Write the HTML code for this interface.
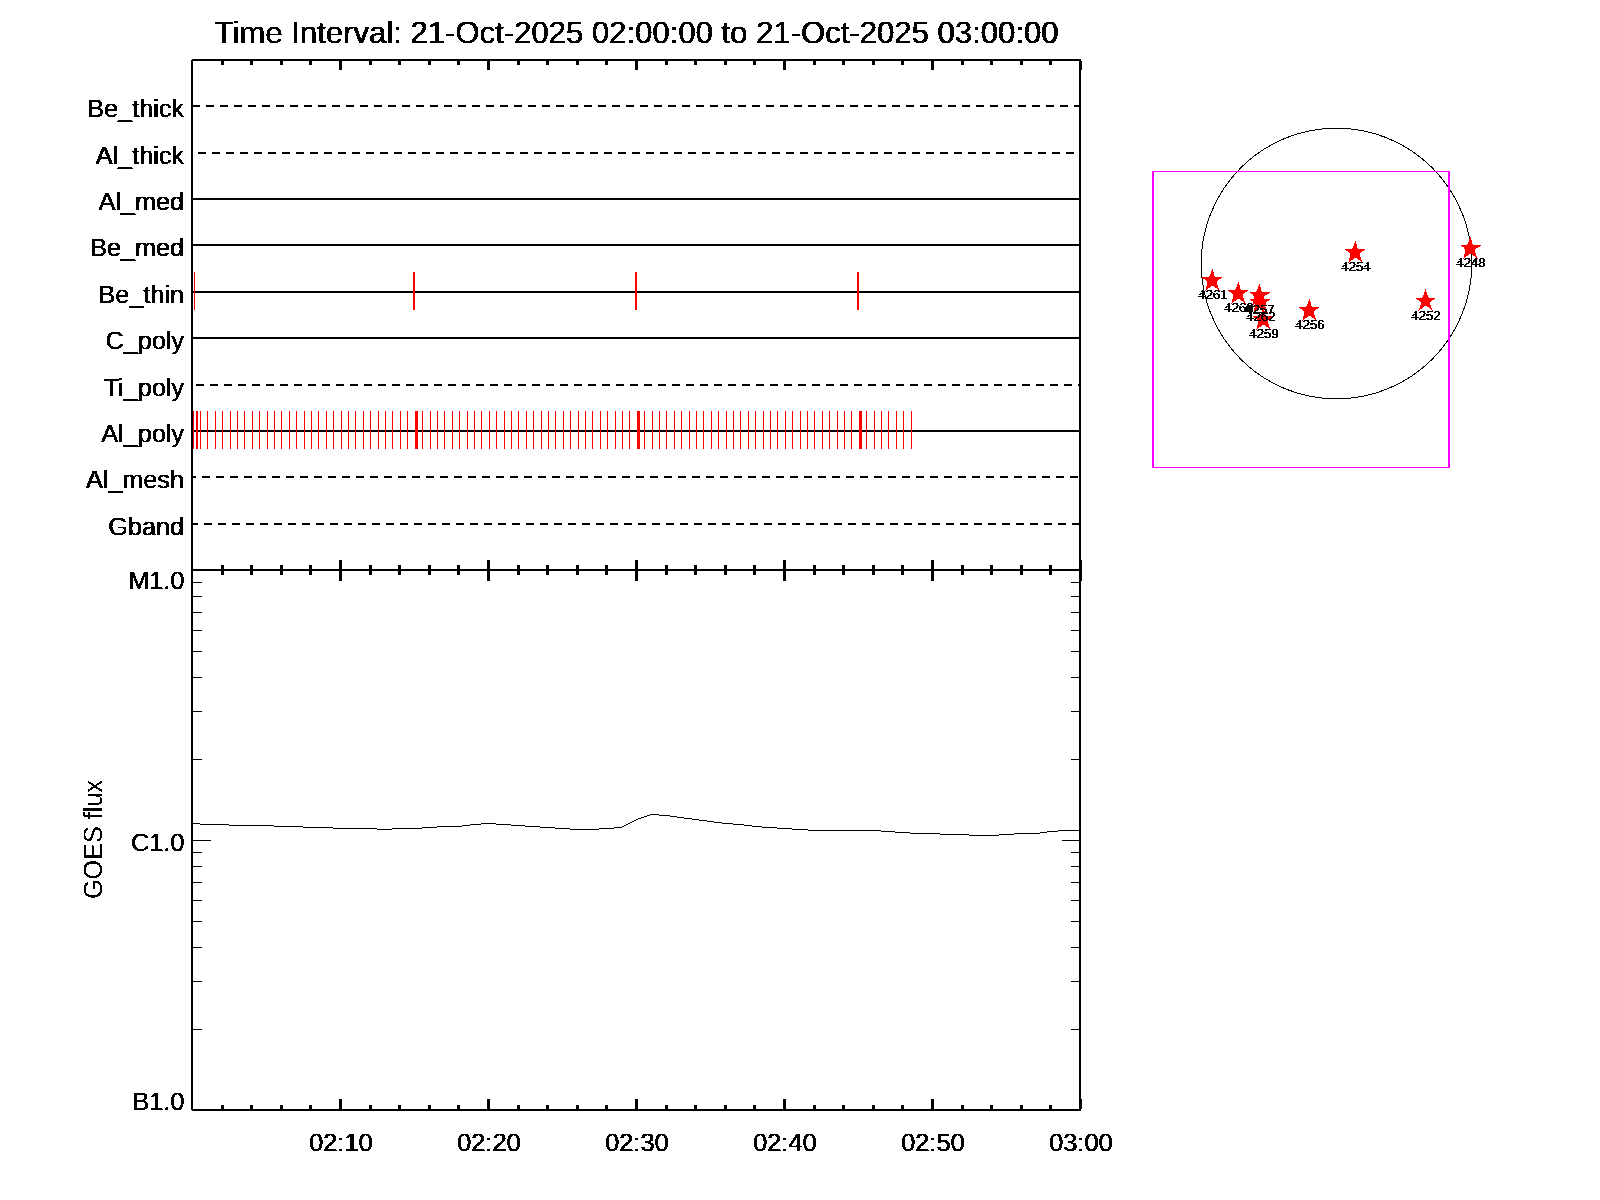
<!DOCTYPE html>
<html lang="en"><head><meta charset="utf-8"><title>Time Interval plot</title>
<style>html,body{margin:0;padding:0;background:#fff;overflow:hidden}svg{display:block}text{font-family:"Liberation Sans",sans-serif;fill:#000;text-rendering:geometricPrecision}.k{fill:#000}.r{fill:#f00}.m{fill:#f0f}</style></head><body>
<svg width="1600" height="1200" viewBox="0 0 1600 1200" shape-rendering="crispEdges">
<defs><filter id="th" filterUnits="userSpaceOnUse" x="0" y="0" width="1600" height="1200" color-interpolation-filters="sRGB"><feComponentTransfer result="t"><feFuncA type="discrete" tableValues="0 0 0 1 1"/></feComponentTransfer><feOffset in="t" dx="1" dy="0" result="o"/><feMerge><feMergeNode in="t"/><feMergeNode in="o"/></feMerge></filter><filter id="th1" filterUnits="userSpaceOnUse" x="0" y="0" width="1600" height="1200" color-interpolation-filters="sRGB"><feComponentTransfer><feFuncA type="discrete" tableValues="0 1"/></feComponentTransfer></filter></defs>
<rect x="0" y="0" width="1600" height="1200" fill="#fff"/>
<g id="rows">
<rect class="k" x="193" y="105" width="7" height="2"/>
<rect class="k" x="206" y="105" width="8" height="2"/>
<rect class="k" x="220" y="105" width="8" height="2"/>
<rect class="k" x="234" y="105" width="8" height="2"/>
<rect class="k" x="248" y="105" width="8" height="2"/>
<rect class="k" x="262" y="105" width="8" height="2"/>
<rect class="k" x="276" y="105" width="8" height="2"/>
<rect class="k" x="290" y="105" width="8" height="2"/>
<rect class="k" x="304" y="105" width="8" height="2"/>
<rect class="k" x="318" y="105" width="8" height="2"/>
<rect class="k" x="332" y="105" width="8" height="2"/>
<rect class="k" x="346" y="105" width="8" height="2"/>
<rect class="k" x="360" y="105" width="8" height="2"/>
<rect class="k" x="374" y="105" width="8" height="2"/>
<rect class="k" x="388" y="105" width="8" height="2"/>
<rect class="k" x="402" y="105" width="8" height="2"/>
<rect class="k" x="416" y="105" width="8" height="2"/>
<rect class="k" x="430" y="105" width="8" height="2"/>
<rect class="k" x="444" y="105" width="8" height="2"/>
<rect class="k" x="458" y="105" width="8" height="2"/>
<rect class="k" x="472" y="105" width="8" height="2"/>
<rect class="k" x="486" y="105" width="8" height="2"/>
<rect class="k" x="500" y="105" width="8" height="2"/>
<rect class="k" x="514" y="105" width="8" height="2"/>
<rect class="k" x="528" y="105" width="8" height="2"/>
<rect class="k" x="542" y="105" width="8" height="2"/>
<rect class="k" x="556" y="105" width="8" height="2"/>
<rect class="k" x="570" y="105" width="8" height="2"/>
<rect class="k" x="584" y="105" width="8" height="2"/>
<rect class="k" x="598" y="105" width="8" height="2"/>
<rect class="k" x="612" y="105" width="8" height="2"/>
<rect class="k" x="626" y="105" width="8" height="2"/>
<rect class="k" x="640" y="105" width="8" height="2"/>
<rect class="k" x="654" y="105" width="8" height="2"/>
<rect class="k" x="668" y="105" width="8" height="2"/>
<rect class="k" x="682" y="105" width="8" height="2"/>
<rect class="k" x="696" y="105" width="8" height="2"/>
<rect class="k" x="710" y="105" width="8" height="2"/>
<rect class="k" x="724" y="105" width="8" height="2"/>
<rect class="k" x="738" y="105" width="8" height="2"/>
<rect class="k" x="752" y="105" width="8" height="2"/>
<rect class="k" x="766" y="105" width="8" height="2"/>
<rect class="k" x="780" y="105" width="8" height="2"/>
<rect class="k" x="794" y="105" width="8" height="2"/>
<rect class="k" x="808" y="105" width="8" height="2"/>
<rect class="k" x="822" y="105" width="8" height="2"/>
<rect class="k" x="836" y="105" width="8" height="2"/>
<rect class="k" x="850" y="105" width="8" height="2"/>
<rect class="k" x="864" y="105" width="8" height="2"/>
<rect class="k" x="878" y="105" width="8" height="2"/>
<rect class="k" x="892" y="105" width="8" height="2"/>
<rect class="k" x="906" y="105" width="8" height="2"/>
<rect class="k" x="920" y="105" width="8" height="2"/>
<rect class="k" x="934" y="105" width="8" height="2"/>
<rect class="k" x="948" y="105" width="8" height="2"/>
<rect class="k" x="962" y="105" width="8" height="2"/>
<rect class="k" x="976" y="105" width="8" height="2"/>
<rect class="k" x="990" y="105" width="8" height="2"/>
<rect class="k" x="1004" y="105" width="8" height="2"/>
<rect class="k" x="1018" y="105" width="8" height="2"/>
<rect class="k" x="1032" y="105" width="8" height="2"/>
<rect class="k" x="1046" y="105" width="8" height="2"/>
<rect class="k" x="1060" y="105" width="8" height="2"/>
<rect class="k" x="1074" y="105" width="5" height="2"/>
<rect class="k" x="198" y="152" width="8" height="2"/>
<rect class="k" x="212" y="152" width="8" height="2"/>
<rect class="k" x="226" y="152" width="8" height="2"/>
<rect class="k" x="240" y="152" width="8" height="2"/>
<rect class="k" x="254" y="152" width="8" height="2"/>
<rect class="k" x="268" y="152" width="8" height="2"/>
<rect class="k" x="282" y="152" width="8" height="2"/>
<rect class="k" x="296" y="152" width="8" height="2"/>
<rect class="k" x="310" y="152" width="8" height="2"/>
<rect class="k" x="324" y="152" width="8" height="2"/>
<rect class="k" x="338" y="152" width="8" height="2"/>
<rect class="k" x="352" y="152" width="8" height="2"/>
<rect class="k" x="366" y="152" width="8" height="2"/>
<rect class="k" x="380" y="152" width="8" height="2"/>
<rect class="k" x="394" y="152" width="8" height="2"/>
<rect class="k" x="408" y="152" width="8" height="2"/>
<rect class="k" x="422" y="152" width="8" height="2"/>
<rect class="k" x="436" y="152" width="8" height="2"/>
<rect class="k" x="450" y="152" width="8" height="2"/>
<rect class="k" x="464" y="152" width="8" height="2"/>
<rect class="k" x="478" y="152" width="8" height="2"/>
<rect class="k" x="492" y="152" width="8" height="2"/>
<rect class="k" x="506" y="152" width="8" height="2"/>
<rect class="k" x="520" y="152" width="8" height="2"/>
<rect class="k" x="534" y="152" width="8" height="2"/>
<rect class="k" x="548" y="152" width="8" height="2"/>
<rect class="k" x="562" y="152" width="8" height="2"/>
<rect class="k" x="576" y="152" width="8" height="2"/>
<rect class="k" x="590" y="152" width="8" height="2"/>
<rect class="k" x="604" y="152" width="8" height="2"/>
<rect class="k" x="618" y="152" width="8" height="2"/>
<rect class="k" x="632" y="152" width="8" height="2"/>
<rect class="k" x="646" y="152" width="8" height="2"/>
<rect class="k" x="660" y="152" width="8" height="2"/>
<rect class="k" x="674" y="152" width="8" height="2"/>
<rect class="k" x="688" y="152" width="8" height="2"/>
<rect class="k" x="702" y="152" width="8" height="2"/>
<rect class="k" x="716" y="152" width="8" height="2"/>
<rect class="k" x="730" y="152" width="8" height="2"/>
<rect class="k" x="744" y="152" width="8" height="2"/>
<rect class="k" x="758" y="152" width="8" height="2"/>
<rect class="k" x="772" y="152" width="8" height="2"/>
<rect class="k" x="786" y="152" width="8" height="2"/>
<rect class="k" x="800" y="152" width="8" height="2"/>
<rect class="k" x="814" y="152" width="8" height="2"/>
<rect class="k" x="828" y="152" width="8" height="2"/>
<rect class="k" x="842" y="152" width="8" height="2"/>
<rect class="k" x="856" y="152" width="8" height="2"/>
<rect class="k" x="870" y="152" width="8" height="2"/>
<rect class="k" x="884" y="152" width="8" height="2"/>
<rect class="k" x="898" y="152" width="8" height="2"/>
<rect class="k" x="912" y="152" width="8" height="2"/>
<rect class="k" x="926" y="152" width="8" height="2"/>
<rect class="k" x="940" y="152" width="8" height="2"/>
<rect class="k" x="954" y="152" width="8" height="2"/>
<rect class="k" x="968" y="152" width="8" height="2"/>
<rect class="k" x="982" y="152" width="8" height="2"/>
<rect class="k" x="996" y="152" width="8" height="2"/>
<rect class="k" x="1010" y="152" width="8" height="2"/>
<rect class="k" x="1024" y="152" width="8" height="2"/>
<rect class="k" x="1038" y="152" width="8" height="2"/>
<rect class="k" x="1052" y="152" width="8" height="2"/>
<rect class="k" x="1066" y="152" width="8" height="2"/>
<rect class="k" x="193" y="198" width="886" height="2"/>
<rect class="k" x="193" y="244" width="886" height="2"/>
<rect class="k" x="193" y="291" width="886" height="2"/>
<rect class="k" x="193" y="337" width="886" height="2"/>
<rect class="k" x="196" y="384" width="8" height="2"/>
<rect class="k" x="210" y="384" width="8" height="2"/>
<rect class="k" x="224" y="384" width="8" height="2"/>
<rect class="k" x="238" y="384" width="8" height="2"/>
<rect class="k" x="252" y="384" width="8" height="2"/>
<rect class="k" x="266" y="384" width="8" height="2"/>
<rect class="k" x="280" y="384" width="8" height="2"/>
<rect class="k" x="294" y="384" width="8" height="2"/>
<rect class="k" x="308" y="384" width="8" height="2"/>
<rect class="k" x="322" y="384" width="8" height="2"/>
<rect class="k" x="336" y="384" width="8" height="2"/>
<rect class="k" x="350" y="384" width="8" height="2"/>
<rect class="k" x="364" y="384" width="8" height="2"/>
<rect class="k" x="378" y="384" width="8" height="2"/>
<rect class="k" x="392" y="384" width="8" height="2"/>
<rect class="k" x="406" y="384" width="8" height="2"/>
<rect class="k" x="420" y="384" width="8" height="2"/>
<rect class="k" x="434" y="384" width="8" height="2"/>
<rect class="k" x="448" y="384" width="8" height="2"/>
<rect class="k" x="462" y="384" width="8" height="2"/>
<rect class="k" x="476" y="384" width="8" height="2"/>
<rect class="k" x="490" y="384" width="8" height="2"/>
<rect class="k" x="504" y="384" width="8" height="2"/>
<rect class="k" x="518" y="384" width="8" height="2"/>
<rect class="k" x="532" y="384" width="8" height="2"/>
<rect class="k" x="546" y="384" width="8" height="2"/>
<rect class="k" x="560" y="384" width="8" height="2"/>
<rect class="k" x="574" y="384" width="8" height="2"/>
<rect class="k" x="588" y="384" width="8" height="2"/>
<rect class="k" x="602" y="384" width="8" height="2"/>
<rect class="k" x="616" y="384" width="8" height="2"/>
<rect class="k" x="630" y="384" width="8" height="2"/>
<rect class="k" x="644" y="384" width="8" height="2"/>
<rect class="k" x="658" y="384" width="8" height="2"/>
<rect class="k" x="672" y="384" width="8" height="2"/>
<rect class="k" x="686" y="384" width="8" height="2"/>
<rect class="k" x="700" y="384" width="8" height="2"/>
<rect class="k" x="714" y="384" width="8" height="2"/>
<rect class="k" x="728" y="384" width="8" height="2"/>
<rect class="k" x="742" y="384" width="8" height="2"/>
<rect class="k" x="756" y="384" width="8" height="2"/>
<rect class="k" x="770" y="384" width="8" height="2"/>
<rect class="k" x="784" y="384" width="8" height="2"/>
<rect class="k" x="798" y="384" width="8" height="2"/>
<rect class="k" x="812" y="384" width="8" height="2"/>
<rect class="k" x="826" y="384" width="8" height="2"/>
<rect class="k" x="840" y="384" width="8" height="2"/>
<rect class="k" x="854" y="384" width="8" height="2"/>
<rect class="k" x="868" y="384" width="8" height="2"/>
<rect class="k" x="882" y="384" width="8" height="2"/>
<rect class="k" x="896" y="384" width="8" height="2"/>
<rect class="k" x="910" y="384" width="8" height="2"/>
<rect class="k" x="924" y="384" width="8" height="2"/>
<rect class="k" x="938" y="384" width="8" height="2"/>
<rect class="k" x="952" y="384" width="8" height="2"/>
<rect class="k" x="966" y="384" width="8" height="2"/>
<rect class="k" x="980" y="384" width="8" height="2"/>
<rect class="k" x="994" y="384" width="8" height="2"/>
<rect class="k" x="1008" y="384" width="8" height="2"/>
<rect class="k" x="1022" y="384" width="8" height="2"/>
<rect class="k" x="1036" y="384" width="8" height="2"/>
<rect class="k" x="1050" y="384" width="8" height="2"/>
<rect class="k" x="1064" y="384" width="8" height="2"/>
<rect class="k" x="1078" y="384" width="1" height="2"/>
<rect class="k" x="193" y="430" width="886" height="2"/>
<rect class="k" x="193" y="476" width="3" height="2"/>
<rect class="k" x="202" y="476" width="8" height="2"/>
<rect class="k" x="216" y="476" width="8" height="2"/>
<rect class="k" x="230" y="476" width="8" height="2"/>
<rect class="k" x="244" y="476" width="8" height="2"/>
<rect class="k" x="258" y="476" width="8" height="2"/>
<rect class="k" x="272" y="476" width="8" height="2"/>
<rect class="k" x="286" y="476" width="8" height="2"/>
<rect class="k" x="300" y="476" width="8" height="2"/>
<rect class="k" x="314" y="476" width="8" height="2"/>
<rect class="k" x="328" y="476" width="8" height="2"/>
<rect class="k" x="342" y="476" width="8" height="2"/>
<rect class="k" x="356" y="476" width="8" height="2"/>
<rect class="k" x="370" y="476" width="8" height="2"/>
<rect class="k" x="384" y="476" width="8" height="2"/>
<rect class="k" x="398" y="476" width="8" height="2"/>
<rect class="k" x="412" y="476" width="8" height="2"/>
<rect class="k" x="426" y="476" width="8" height="2"/>
<rect class="k" x="440" y="476" width="8" height="2"/>
<rect class="k" x="454" y="476" width="8" height="2"/>
<rect class="k" x="468" y="476" width="8" height="2"/>
<rect class="k" x="482" y="476" width="8" height="2"/>
<rect class="k" x="496" y="476" width="8" height="2"/>
<rect class="k" x="510" y="476" width="8" height="2"/>
<rect class="k" x="524" y="476" width="8" height="2"/>
<rect class="k" x="538" y="476" width="8" height="2"/>
<rect class="k" x="552" y="476" width="8" height="2"/>
<rect class="k" x="566" y="476" width="8" height="2"/>
<rect class="k" x="580" y="476" width="8" height="2"/>
<rect class="k" x="594" y="476" width="8" height="2"/>
<rect class="k" x="608" y="476" width="8" height="2"/>
<rect class="k" x="622" y="476" width="8" height="2"/>
<rect class="k" x="636" y="476" width="8" height="2"/>
<rect class="k" x="650" y="476" width="8" height="2"/>
<rect class="k" x="664" y="476" width="8" height="2"/>
<rect class="k" x="678" y="476" width="8" height="2"/>
<rect class="k" x="692" y="476" width="8" height="2"/>
<rect class="k" x="706" y="476" width="8" height="2"/>
<rect class="k" x="720" y="476" width="8" height="2"/>
<rect class="k" x="734" y="476" width="8" height="2"/>
<rect class="k" x="748" y="476" width="8" height="2"/>
<rect class="k" x="762" y="476" width="8" height="2"/>
<rect class="k" x="776" y="476" width="8" height="2"/>
<rect class="k" x="790" y="476" width="8" height="2"/>
<rect class="k" x="804" y="476" width="8" height="2"/>
<rect class="k" x="818" y="476" width="8" height="2"/>
<rect class="k" x="832" y="476" width="8" height="2"/>
<rect class="k" x="846" y="476" width="8" height="2"/>
<rect class="k" x="860" y="476" width="8" height="2"/>
<rect class="k" x="874" y="476" width="8" height="2"/>
<rect class="k" x="888" y="476" width="8" height="2"/>
<rect class="k" x="902" y="476" width="8" height="2"/>
<rect class="k" x="916" y="476" width="8" height="2"/>
<rect class="k" x="930" y="476" width="8" height="2"/>
<rect class="k" x="944" y="476" width="8" height="2"/>
<rect class="k" x="958" y="476" width="8" height="2"/>
<rect class="k" x="972" y="476" width="8" height="2"/>
<rect class="k" x="986" y="476" width="8" height="2"/>
<rect class="k" x="1000" y="476" width="8" height="2"/>
<rect class="k" x="1014" y="476" width="8" height="2"/>
<rect class="k" x="1028" y="476" width="8" height="2"/>
<rect class="k" x="1042" y="476" width="8" height="2"/>
<rect class="k" x="1056" y="476" width="8" height="2"/>
<rect class="k" x="1070" y="476" width="8" height="2"/>
<rect class="k" x="193" y="523" width="5" height="2"/>
<rect class="k" x="204" y="523" width="8" height="2"/>
<rect class="k" x="218" y="523" width="8" height="2"/>
<rect class="k" x="232" y="523" width="8" height="2"/>
<rect class="k" x="246" y="523" width="8" height="2"/>
<rect class="k" x="260" y="523" width="8" height="2"/>
<rect class="k" x="274" y="523" width="8" height="2"/>
<rect class="k" x="288" y="523" width="8" height="2"/>
<rect class="k" x="302" y="523" width="8" height="2"/>
<rect class="k" x="316" y="523" width="8" height="2"/>
<rect class="k" x="330" y="523" width="8" height="2"/>
<rect class="k" x="344" y="523" width="8" height="2"/>
<rect class="k" x="358" y="523" width="8" height="2"/>
<rect class="k" x="372" y="523" width="8" height="2"/>
<rect class="k" x="386" y="523" width="8" height="2"/>
<rect class="k" x="400" y="523" width="8" height="2"/>
<rect class="k" x="414" y="523" width="8" height="2"/>
<rect class="k" x="428" y="523" width="8" height="2"/>
<rect class="k" x="442" y="523" width="8" height="2"/>
<rect class="k" x="456" y="523" width="8" height="2"/>
<rect class="k" x="470" y="523" width="8" height="2"/>
<rect class="k" x="484" y="523" width="8" height="2"/>
<rect class="k" x="498" y="523" width="8" height="2"/>
<rect class="k" x="512" y="523" width="8" height="2"/>
<rect class="k" x="526" y="523" width="8" height="2"/>
<rect class="k" x="540" y="523" width="8" height="2"/>
<rect class="k" x="554" y="523" width="8" height="2"/>
<rect class="k" x="568" y="523" width="8" height="2"/>
<rect class="k" x="582" y="523" width="8" height="2"/>
<rect class="k" x="596" y="523" width="8" height="2"/>
<rect class="k" x="610" y="523" width="8" height="2"/>
<rect class="k" x="624" y="523" width="8" height="2"/>
<rect class="k" x="638" y="523" width="8" height="2"/>
<rect class="k" x="652" y="523" width="8" height="2"/>
<rect class="k" x="666" y="523" width="8" height="2"/>
<rect class="k" x="680" y="523" width="8" height="2"/>
<rect class="k" x="694" y="523" width="8" height="2"/>
<rect class="k" x="708" y="523" width="8" height="2"/>
<rect class="k" x="722" y="523" width="8" height="2"/>
<rect class="k" x="736" y="523" width="8" height="2"/>
<rect class="k" x="750" y="523" width="8" height="2"/>
<rect class="k" x="764" y="523" width="8" height="2"/>
<rect class="k" x="778" y="523" width="8" height="2"/>
<rect class="k" x="792" y="523" width="8" height="2"/>
<rect class="k" x="806" y="523" width="8" height="2"/>
<rect class="k" x="820" y="523" width="8" height="2"/>
<rect class="k" x="834" y="523" width="8" height="2"/>
<rect class="k" x="848" y="523" width="8" height="2"/>
<rect class="k" x="862" y="523" width="8" height="2"/>
<rect class="k" x="876" y="523" width="8" height="2"/>
<rect class="k" x="890" y="523" width="8" height="2"/>
<rect class="k" x="904" y="523" width="8" height="2"/>
<rect class="k" x="918" y="523" width="8" height="2"/>
<rect class="k" x="932" y="523" width="8" height="2"/>
<rect class="k" x="946" y="523" width="8" height="2"/>
<rect class="k" x="960" y="523" width="8" height="2"/>
<rect class="k" x="974" y="523" width="8" height="2"/>
<rect class="k" x="988" y="523" width="8" height="2"/>
<rect class="k" x="1002" y="523" width="8" height="2"/>
<rect class="k" x="1016" y="523" width="8" height="2"/>
<rect class="k" x="1030" y="523" width="8" height="2"/>
<rect class="k" x="1044" y="523" width="8" height="2"/>
<rect class="k" x="1058" y="523" width="8" height="2"/>
<rect class="k" x="1072" y="523" width="7" height="2"/>
</g>
<g id="obs">
<rect class="r" x="193" y="411" width="1" height="38"/>
<rect class="r" x="196" y="411" width="2" height="38"/>
<rect class="r" x="200" y="411" width="1" height="38"/>
<rect class="r" x="207" y="411" width="1" height="38"/>
<rect class="r" x="215" y="411" width="1" height="38"/>
<rect class="r" x="222" y="411" width="1" height="38"/>
<rect class="r" x="230" y="411" width="1" height="38"/>
<rect class="r" x="237" y="411" width="1" height="38"/>
<rect class="r" x="244" y="411" width="1" height="38"/>
<rect class="r" x="252" y="411" width="1" height="38"/>
<rect class="r" x="259" y="411" width="1" height="38"/>
<rect class="r" x="267" y="411" width="1" height="38"/>
<rect class="r" x="274" y="411" width="1" height="38"/>
<rect class="r" x="281" y="411" width="1" height="38"/>
<rect class="r" x="289" y="411" width="1" height="38"/>
<rect class="r" x="296" y="411" width="1" height="38"/>
<rect class="r" x="304" y="411" width="1" height="38"/>
<rect class="r" x="311" y="411" width="1" height="38"/>
<rect class="r" x="318" y="411" width="1" height="38"/>
<rect class="r" x="326" y="411" width="1" height="38"/>
<rect class="r" x="333" y="411" width="1" height="38"/>
<rect class="r" x="341" y="411" width="1" height="38"/>
<rect class="r" x="348" y="411" width="1" height="38"/>
<rect class="r" x="355" y="411" width="1" height="38"/>
<rect class="r" x="363" y="411" width="1" height="38"/>
<rect class="r" x="370" y="411" width="1" height="38"/>
<rect class="r" x="378" y="411" width="1" height="38"/>
<rect class="r" x="385" y="411" width="1" height="38"/>
<rect class="r" x="392" y="411" width="1" height="38"/>
<rect class="r" x="400" y="411" width="1" height="38"/>
<rect class="r" x="407" y="411" width="1" height="38"/>
<rect class="r" x="415" y="411" width="3" height="38"/>
<rect class="r" x="422" y="411" width="1" height="38"/>
<rect class="r" x="430" y="411" width="1" height="38"/>
<rect class="r" x="437" y="411" width="1" height="38"/>
<rect class="r" x="444" y="411" width="1" height="38"/>
<rect class="r" x="452" y="411" width="1" height="38"/>
<rect class="r" x="459" y="411" width="1" height="38"/>
<rect class="r" x="467" y="411" width="1" height="38"/>
<rect class="r" x="474" y="411" width="1" height="38"/>
<rect class="r" x="481" y="411" width="1" height="38"/>
<rect class="r" x="489" y="411" width="1" height="38"/>
<rect class="r" x="496" y="411" width="1" height="38"/>
<rect class="r" x="504" y="411" width="1" height="38"/>
<rect class="r" x="511" y="411" width="1" height="38"/>
<rect class="r" x="518" y="411" width="1" height="38"/>
<rect class="r" x="526" y="411" width="1" height="38"/>
<rect class="r" x="533" y="411" width="1" height="38"/>
<rect class="r" x="541" y="411" width="1" height="38"/>
<rect class="r" x="548" y="411" width="1" height="38"/>
<rect class="r" x="555" y="411" width="1" height="38"/>
<rect class="r" x="563" y="411" width="1" height="38"/>
<rect class="r" x="570" y="411" width="1" height="38"/>
<rect class="r" x="578" y="411" width="1" height="38"/>
<rect class="r" x="585" y="411" width="1" height="38"/>
<rect class="r" x="592" y="411" width="1" height="38"/>
<rect class="r" x="600" y="411" width="1" height="38"/>
<rect class="r" x="607" y="411" width="1" height="38"/>
<rect class="r" x="615" y="411" width="1" height="38"/>
<rect class="r" x="622" y="411" width="1" height="38"/>
<rect class="r" x="629" y="411" width="1" height="38"/>
<rect class="r" x="637" y="411" width="3" height="38"/>
<rect class="r" x="644" y="411" width="1" height="38"/>
<rect class="r" x="652" y="411" width="1" height="38"/>
<rect class="r" x="659" y="411" width="1" height="38"/>
<rect class="r" x="666" y="411" width="1" height="38"/>
<rect class="r" x="674" y="411" width="1" height="38"/>
<rect class="r" x="681" y="411" width="1" height="38"/>
<rect class="r" x="689" y="411" width="1" height="38"/>
<rect class="r" x="696" y="411" width="1" height="38"/>
<rect class="r" x="703" y="411" width="1" height="38"/>
<rect class="r" x="711" y="411" width="1" height="38"/>
<rect class="r" x="718" y="411" width="1" height="38"/>
<rect class="r" x="726" y="411" width="1" height="38"/>
<rect class="r" x="733" y="411" width="1" height="38"/>
<rect class="r" x="740" y="411" width="1" height="38"/>
<rect class="r" x="748" y="411" width="1" height="38"/>
<rect class="r" x="755" y="411" width="1" height="38"/>
<rect class="r" x="763" y="411" width="1" height="38"/>
<rect class="r" x="770" y="411" width="1" height="38"/>
<rect class="r" x="777" y="411" width="1" height="38"/>
<rect class="r" x="785" y="411" width="1" height="38"/>
<rect class="r" x="792" y="411" width="1" height="38"/>
<rect class="r" x="800" y="411" width="1" height="38"/>
<rect class="r" x="807" y="411" width="1" height="38"/>
<rect class="r" x="814" y="411" width="1" height="38"/>
<rect class="r" x="822" y="411" width="1" height="38"/>
<rect class="r" x="829" y="411" width="1" height="38"/>
<rect class="r" x="837" y="411" width="1" height="38"/>
<rect class="r" x="844" y="411" width="1" height="38"/>
<rect class="r" x="851" y="411" width="1" height="38"/>
<rect class="r" x="859" y="411" width="3" height="38"/>
<rect class="r" x="866" y="411" width="1" height="38"/>
<rect class="r" x="874" y="411" width="1" height="38"/>
<rect class="r" x="881" y="411" width="1" height="38"/>
<rect class="r" x="888" y="411" width="1" height="38"/>
<rect class="r" x="896" y="411" width="1" height="38"/>
<rect class="r" x="903" y="411" width="1" height="38"/>
<rect class="r" x="911" y="411" width="1" height="38"/>
<rect class="r" x="194" y="272" width="1" height="38"/>
<rect class="r" x="413" y="272" width="2" height="38"/>
<rect class="r" x="635" y="272" width="2" height="38"/>
<rect class="r" x="857" y="272" width="2" height="38"/>
</g>
<g id="frame">
<rect class="k" x="191" y="59" width="2" height="1052"/>
<rect class="k" x="1079" y="59" width="2" height="1052"/>
<rect class="k" x="191" y="59" width="890" height="2"/>
<rect class="k" x="191" y="569" width="890" height="2"/>
<rect class="k" x="191" y="1109" width="890" height="2"/>
<rect x="191" y="59" width="1" height="1" fill="#fff"/><rect x="191" y="1110" width="1" height="1" fill="#fff"/>
<rect class="k" x="221" y="61" width="3" height="4"/>
<rect class="k" x="221" y="565" width="3" height="10"/>
<rect class="k" x="221" y="1105" width="3" height="4"/>
<rect class="k" x="250" y="61" width="3" height="4"/>
<rect class="k" x="250" y="565" width="3" height="10"/>
<rect class="k" x="250" y="1105" width="3" height="4"/>
<rect class="k" x="280" y="61" width="3" height="4"/>
<rect class="k" x="280" y="565" width="3" height="10"/>
<rect class="k" x="280" y="1105" width="3" height="4"/>
<rect class="k" x="309" y="61" width="3" height="4"/>
<rect class="k" x="309" y="565" width="3" height="10"/>
<rect class="k" x="309" y="1105" width="3" height="4"/>
<rect class="k" x="339" y="61" width="3" height="9"/>
<rect class="k" x="339" y="560" width="3" height="21"/>
<rect class="k" x="339" y="1099" width="3" height="10"/>
<rect class="k" x="369" y="61" width="3" height="4"/>
<rect class="k" x="369" y="565" width="3" height="10"/>
<rect class="k" x="369" y="1105" width="3" height="4"/>
<rect class="k" x="398" y="61" width="3" height="4"/>
<rect class="k" x="398" y="565" width="3" height="10"/>
<rect class="k" x="398" y="1105" width="3" height="4"/>
<rect class="k" x="428" y="61" width="3" height="4"/>
<rect class="k" x="428" y="565" width="3" height="10"/>
<rect class="k" x="428" y="1105" width="3" height="4"/>
<rect class="k" x="457" y="61" width="3" height="4"/>
<rect class="k" x="457" y="565" width="3" height="10"/>
<rect class="k" x="457" y="1105" width="3" height="4"/>
<rect class="k" x="487" y="61" width="3" height="9"/>
<rect class="k" x="487" y="560" width="3" height="21"/>
<rect class="k" x="487" y="1099" width="3" height="10"/>
<rect class="k" x="517" y="61" width="3" height="4"/>
<rect class="k" x="517" y="565" width="3" height="10"/>
<rect class="k" x="517" y="1105" width="3" height="4"/>
<rect class="k" x="546" y="61" width="3" height="4"/>
<rect class="k" x="546" y="565" width="3" height="10"/>
<rect class="k" x="546" y="1105" width="3" height="4"/>
<rect class="k" x="576" y="61" width="3" height="4"/>
<rect class="k" x="576" y="565" width="3" height="10"/>
<rect class="k" x="576" y="1105" width="3" height="4"/>
<rect class="k" x="605" y="61" width="3" height="4"/>
<rect class="k" x="605" y="565" width="3" height="10"/>
<rect class="k" x="605" y="1105" width="3" height="4"/>
<rect class="k" x="635" y="61" width="3" height="9"/>
<rect class="k" x="635" y="560" width="3" height="21"/>
<rect class="k" x="635" y="1099" width="3" height="10"/>
<rect class="k" x="665" y="61" width="3" height="4"/>
<rect class="k" x="665" y="565" width="3" height="10"/>
<rect class="k" x="665" y="1105" width="3" height="4"/>
<rect class="k" x="694" y="61" width="3" height="4"/>
<rect class="k" x="694" y="565" width="3" height="10"/>
<rect class="k" x="694" y="1105" width="3" height="4"/>
<rect class="k" x="724" y="61" width="3" height="4"/>
<rect class="k" x="724" y="565" width="3" height="10"/>
<rect class="k" x="724" y="1105" width="3" height="4"/>
<rect class="k" x="753" y="61" width="3" height="4"/>
<rect class="k" x="753" y="565" width="3" height="10"/>
<rect class="k" x="753" y="1105" width="3" height="4"/>
<rect class="k" x="783" y="61" width="3" height="9"/>
<rect class="k" x="783" y="560" width="3" height="21"/>
<rect class="k" x="783" y="1099" width="3" height="10"/>
<rect class="k" x="813" y="61" width="3" height="4"/>
<rect class="k" x="813" y="565" width="3" height="10"/>
<rect class="k" x="813" y="1105" width="3" height="4"/>
<rect class="k" x="842" y="61" width="3" height="4"/>
<rect class="k" x="842" y="565" width="3" height="10"/>
<rect class="k" x="842" y="1105" width="3" height="4"/>
<rect class="k" x="872" y="61" width="3" height="4"/>
<rect class="k" x="872" y="565" width="3" height="10"/>
<rect class="k" x="872" y="1105" width="3" height="4"/>
<rect class="k" x="901" y="61" width="3" height="4"/>
<rect class="k" x="901" y="565" width="3" height="10"/>
<rect class="k" x="901" y="1105" width="3" height="4"/>
<rect class="k" x="931" y="61" width="3" height="9"/>
<rect class="k" x="931" y="560" width="3" height="21"/>
<rect class="k" x="931" y="1099" width="3" height="10"/>
<rect class="k" x="961" y="61" width="3" height="4"/>
<rect class="k" x="961" y="565" width="3" height="10"/>
<rect class="k" x="961" y="1105" width="3" height="4"/>
<rect class="k" x="990" y="61" width="3" height="4"/>
<rect class="k" x="990" y="565" width="3" height="10"/>
<rect class="k" x="990" y="1105" width="3" height="4"/>
<rect class="k" x="1020" y="61" width="3" height="4"/>
<rect class="k" x="1020" y="565" width="3" height="10"/>
<rect class="k" x="1020" y="1105" width="3" height="4"/>
<rect class="k" x="1049" y="61" width="3" height="4"/>
<rect class="k" x="1049" y="565" width="3" height="10"/>
<rect class="k" x="1049" y="1105" width="3" height="4"/>
<rect class="k" x="1079" y="61" width="3" height="9"/>
<rect class="k" x="1079" y="560" width="3" height="21"/>
<rect class="k" x="1079" y="1099" width="3" height="10"/>
<rect class="k" x="193" y="759" width="9" height="1"/>
<rect class="k" x="1071" y="759" width="8" height="1"/>
<rect class="k" x="193" y="711" width="9" height="1"/>
<rect class="k" x="1071" y="711" width="8" height="1"/>
<rect class="k" x="193" y="677" width="9" height="1"/>
<rect class="k" x="1071" y="677" width="8" height="1"/>
<rect class="k" x="193" y="651" width="9" height="1"/>
<rect class="k" x="1071" y="651" width="8" height="1"/>
<rect class="k" x="193" y="630" width="9" height="1"/>
<rect class="k" x="1071" y="630" width="8" height="1"/>
<rect class="k" x="193" y="612" width="9" height="1"/>
<rect class="k" x="1071" y="612" width="8" height="1"/>
<rect class="k" x="193" y="596" width="9" height="1"/>
<rect class="k" x="1071" y="596" width="8" height="1"/>
<rect class="k" x="193" y="582" width="9" height="1"/>
<rect class="k" x="1071" y="582" width="8" height="1"/>
<rect class="k" x="193" y="1029" width="9" height="1"/>
<rect class="k" x="1071" y="1029" width="8" height="1"/>
<rect class="k" x="193" y="981" width="9" height="1"/>
<rect class="k" x="1071" y="981" width="8" height="1"/>
<rect class="k" x="193" y="947" width="9" height="1"/>
<rect class="k" x="1071" y="947" width="8" height="1"/>
<rect class="k" x="193" y="921" width="9" height="1"/>
<rect class="k" x="1071" y="921" width="8" height="1"/>
<rect class="k" x="193" y="900" width="9" height="1"/>
<rect class="k" x="1071" y="900" width="8" height="1"/>
<rect class="k" x="193" y="882" width="9" height="1"/>
<rect class="k" x="1071" y="882" width="8" height="1"/>
<rect class="k" x="193" y="866" width="9" height="1"/>
<rect class="k" x="1071" y="866" width="8" height="1"/>
<rect class="k" x="193" y="852" width="9" height="1"/>
<rect class="k" x="1071" y="852" width="8" height="1"/>
<rect class="k" x="193" y="840" width="18" height="1"/>
<rect class="k" x="1062" y="840" width="17" height="1"/>
</g>
<g id="goes">
<rect class="k" x="193" y="823" width="7" height="1"/>
<rect class="k" x="200" y="824" width="29" height="1"/>
<rect class="k" x="229" y="825" width="45" height="1"/>
<rect class="k" x="274" y="826" width="29" height="1"/>
<rect class="k" x="303" y="827" width="30" height="1"/>
<rect class="k" x="333" y="828" width="44" height="1"/>
<rect class="k" x="377" y="829" width="15" height="1"/>
<rect class="k" x="392" y="828" width="30" height="1"/>
<rect class="k" x="422" y="827" width="15" height="1"/>
<rect class="k" x="437" y="826" width="25" height="1"/>
<rect class="k" x="462" y="825" width="8" height="1"/>
<rect class="k" x="470" y="824" width="11" height="1"/>
<rect class="k" x="481" y="823" width="15" height="1"/>
<rect class="k" x="496" y="824" width="15" height="1"/>
<rect class="k" x="511" y="825" width="14" height="1"/>
<rect class="k" x="525" y="826" width="15" height="1"/>
<rect class="k" x="540" y="827" width="15" height="1"/>
<rect class="k" x="555" y="828" width="15" height="1"/>
<rect class="k" x="570" y="829" width="29" height="1"/>
<rect class="k" x="599" y="828" width="15" height="1"/>
<rect class="k" x="614" y="827" width="8" height="1"/>
<rect class="k" x="622" y="826" width="2" height="1"/>
<rect class="k" x="624" y="825" width="2" height="1"/>
<rect class="k" x="626" y="824" width="2" height="1"/>
<rect class="k" x="628" y="823" width="2" height="1"/>
<rect class="k" x="630" y="822" width="2" height="1"/>
<rect class="k" x="632" y="821" width="2" height="1"/>
<rect class="k" x="634" y="820" width="2" height="1"/>
<rect class="k" x="636" y="819" width="2" height="1"/>
<rect class="k" x="638" y="818" width="3" height="1"/>
<rect class="k" x="641" y="817" width="3" height="1"/>
<rect class="k" x="644" y="816" width="3" height="1"/>
<rect class="k" x="647" y="815" width="3" height="1"/>
<rect class="k" x="650" y="814" width="9" height="1"/>
<rect class="k" x="659" y="815" width="11" height="1"/>
<rect class="k" x="670" y="816" width="7" height="1"/>
<rect class="k" x="677" y="817" width="7" height="1"/>
<rect class="k" x="684" y="818" width="8" height="1"/>
<rect class="k" x="692" y="819" width="7" height="1"/>
<rect class="k" x="699" y="820" width="8" height="1"/>
<rect class="k" x="707" y="821" width="7" height="1"/>
<rect class="k" x="714" y="822" width="8" height="1"/>
<rect class="k" x="722" y="823" width="11" height="1"/>
<rect class="k" x="733" y="824" width="11" height="1"/>
<rect class="k" x="744" y="825" width="8" height="1"/>
<rect class="k" x="752" y="826" width="10" height="1"/>
<rect class="k" x="762" y="827" width="15" height="1"/>
<rect class="k" x="777" y="828" width="15" height="1"/>
<rect class="k" x="792" y="829" width="16" height="1"/>
<rect class="k" x="808" y="830" width="73" height="1"/>
<rect class="k" x="881" y="831" width="14" height="1"/>
<rect class="k" x="895" y="832" width="15" height="1"/>
<rect class="k" x="910" y="833" width="30" height="1"/>
<rect class="k" x="940" y="834" width="29" height="1"/>
<rect class="k" x="969" y="835" width="30" height="1"/>
<rect class="k" x="999" y="834" width="15" height="1"/>
<rect class="k" x="1014" y="833" width="26" height="1"/>
<rect class="k" x="1040" y="832" width="7" height="1"/>
<rect class="k" x="1047" y="831" width="11" height="1"/>
<rect class="k" x="1058" y="830" width="21" height="1"/>
</g>
<g id="labels" shape-rendering="auto"><g id="tx" filter="url(#th1)">
<text transform="translate(636.2 43.3) scale(1.013 1)" font-size="30.7" text-anchor="middle">Time Interval: 21-Oct-2025 02:00:00 to 21-Oct-2025 03:00:00</text>
<text transform="translate(183.6 117) scale(1.008 1)" font-size="25" text-anchor="end">Be_thick</text>
<text transform="translate(183.6 164) scale(1.008 1)" font-size="25" text-anchor="end">Al_thick</text>
<text transform="translate(183.6 210) scale(1.008 1)" font-size="25" text-anchor="end">Al_med</text>
<text transform="translate(183.6 256) scale(1.008 1)" font-size="25" text-anchor="end">Be_med</text>
<text transform="translate(183.6 303) scale(1.008 1)" font-size="25" text-anchor="end">Be_thin</text>
<text transform="translate(183.6 349) scale(1.008 1)" font-size="25" text-anchor="end">C_poly</text>
<text transform="translate(183.6 396) scale(1.008 1)" font-size="25" text-anchor="end">Ti_poly</text>
<text transform="translate(183.6 442) scale(1.008 1)" font-size="25" text-anchor="end">Al_poly</text>
<text transform="translate(183.6 488) scale(1.008 1)" font-size="25" text-anchor="end">Al_mesh</text>
<text transform="translate(183.6 535) scale(1.008 1)" font-size="25" text-anchor="end">Gband</text>
<text transform="translate(184 589.3) scale(1.008 1)" font-size="25" text-anchor="end">M1.0</text>
<text transform="translate(184 851.3) scale(1.008 1)" font-size="25" text-anchor="end">C1.0</text>
<text transform="translate(184 1110.3) scale(1.008 1)" font-size="25" text-anchor="end">B1.0</text>
<text transform="translate(101.5 839.5) rotate(-90) scale(1.008 1.06)" font-size="25" text-anchor="middle">GOES flux</text>
<text transform="translate(340.5 1151.3) scale(1.018 1)" font-size="25" text-anchor="middle">02:10</text>
<text transform="translate(488.5 1151.3) scale(1.018 1)" font-size="25" text-anchor="middle">02:20</text>
<text transform="translate(636.5 1151.3) scale(1.018 1)" font-size="25" text-anchor="middle">02:30</text>
<text transform="translate(784.5 1151.3) scale(1.018 1)" font-size="25" text-anchor="middle">02:40</text>
<text transform="translate(932.5 1151.3) scale(1.018 1)" font-size="25" text-anchor="middle">02:50</text>
<text transform="translate(1080.5 1151.3) scale(1.018 1)" font-size="25" text-anchor="middle">03:00</text>
</g><use href="#tx" x="0.85"/></g>
<g id="disk">
<circle cx="1336.5" cy="263.5" r="135.36" fill="none" stroke="#000" stroke-width="1"/>
<rect class="m" x="1152" y="171" width="298" height="1"/>
<rect class="m" x="1152" y="467" width="298" height="1"/>
<rect class="m" x="1152" y="171" width="2" height="297"/>
<rect class="m" x="1448" y="171" width="2" height="297"/>
<path class="r" d="M1470 237h1v1h-1zM1470 238h1v1h-1zM1469 239h2v1h-2zM1469 240h3v1h-3zM1469 241h3v1h-3zM1468 242h4v1h-4zM1468 243h4v1h-4zM1467 244h6v1h-6zM1461 245h20v1h-20zM1462 246h18v1h-18zM1464 247h14v1h-14zM1464 248h12v1h-12zM1465 249h10v1h-10zM1465 250h10v1h-10zM1465 251h10v1h-10zM1465 252h10v1h-10zM1465 253h11v1h-11zM1464 254h5v1h-5zM1472 254h4v1h-4zM1464 255h4v1h-4zM1473 255h3v1h-3zM1464 256h2v1h-2zM1475 256h2v1h-2zM1464 257h1v1h-1zM1476 257h1v1h-1zM1463 258h1v1h-1zM1477 258h1v1h-1z"/>
<path class="r" d="M1425 289h1v1h-1zM1425 290h1v1h-1zM1425 291h1v1h-1zM1424 292h3v1h-3zM1424 293h3v1h-3zM1424 294h3v1h-3zM1423 295h5v1h-5zM1423 296h5v1h-5zM1422 297h7v1h-7zM1416 298h19v1h-19zM1417 299h17v1h-17zM1419 300h13v1h-13zM1420 301h11v1h-11zM1421 302h9v1h-9zM1421 303h9v1h-9zM1421 304h9v1h-9zM1420 305h11v1h-11zM1420 306h4v1h-4zM1427 306h4v1h-4zM1420 307h3v1h-3zM1429 307h2v1h-2zM1419 308h3v1h-3zM1430 308h2v1h-2zM1419 309h1v1h-1zM1431 309h1v1h-1zM1418 310h1v1h-1zM1432 310h1v1h-1z"/>
<path class="r" d="M1355 241h1v1h-1zM1355 242h1v1h-1zM1354 243h2v1h-2zM1354 244h3v1h-3zM1354 245h3v1h-3zM1353 246h4v1h-4zM1353 247h4v1h-4zM1352 248h6v1h-6zM1345 249h20v1h-20zM1346 250h18v1h-18zM1348 251h14v1h-14zM1349 252h12v1h-12zM1350 253h10v1h-10zM1350 254h10v1h-10zM1350 255h10v1h-10zM1350 256h10v1h-10zM1350 257h11v1h-11zM1349 258h5v1h-5zM1357 258h4v1h-4zM1349 259h4v1h-4zM1358 259h3v1h-3zM1349 260h2v1h-2zM1360 260h2v1h-2zM1349 261h1v1h-1zM1361 261h1v1h-1zM1348 262h1v1h-1zM1362 262h1v1h-1z"/>
<path class="r" d="M1309 299h1v1h-1zM1309 300h1v1h-1zM1308 301h2v1h-2zM1308 302h3v1h-3zM1308 303h3v1h-3zM1307 304h4v1h-4zM1307 305h4v1h-4zM1306 306h6v1h-6zM1299 307h20v1h-20zM1300 308h18v1h-18zM1302 309h14v1h-14zM1303 310h12v1h-12zM1304 311h10v1h-10zM1304 312h10v1h-10zM1304 313h10v1h-10zM1304 314h10v1h-10zM1304 315h11v1h-11zM1303 316h5v1h-5zM1311 316h4v1h-4zM1303 317h4v1h-4zM1312 317h3v1h-3zM1303 318h2v1h-2zM1314 318h2v1h-2zM1303 319h1v1h-1zM1315 319h1v1h-1zM1302 320h1v1h-1zM1316 320h1v1h-1z"/>
<path class="r" d="M1259 284h1v1h-1zM1259 285h1v1h-1zM1258 286h2v1h-2zM1258 287h3v1h-3zM1258 288h3v1h-3zM1257 289h4v1h-4zM1257 290h4v1h-4zM1256 291h6v1h-6zM1250 292h20v1h-20zM1251 293h18v1h-18zM1253 294h14v1h-14zM1253 295h12v1h-12zM1254 296h10v1h-10zM1254 297h10v1h-10zM1254 298h10v1h-10zM1254 299h10v1h-10zM1254 300h11v1h-11zM1253 301h5v1h-5zM1261 301h4v1h-4zM1253 302h4v1h-4zM1262 302h3v1h-3zM1253 303h2v1h-2zM1264 303h2v1h-2zM1253 304h1v1h-1zM1265 304h1v1h-1zM1252 305h1v1h-1zM1266 305h1v1h-1z"/>
<path class="r" d="M1260 291h1v1h-1zM1260 292h1v1h-1zM1259 293h2v1h-2zM1259 294h3v1h-3zM1259 295h3v1h-3zM1258 296h4v1h-4zM1258 297h4v1h-4zM1257 298h6v1h-6zM1250 299h20v1h-20zM1251 300h18v1h-18zM1253 301h14v1h-14zM1254 302h12v1h-12zM1255 303h10v1h-10zM1255 304h10v1h-10zM1255 305h10v1h-10zM1255 306h10v1h-10zM1255 307h11v1h-11zM1254 308h5v1h-5zM1262 308h4v1h-4zM1254 309h4v1h-4zM1263 309h3v1h-3zM1254 310h2v1h-2zM1265 310h2v1h-2zM1254 311h1v1h-1zM1266 311h1v1h-1zM1253 312h1v1h-1zM1267 312h1v1h-1z"/>
<path class="r" d="M1263 308h1v1h-1zM1263 309h1v1h-1zM1262 310h2v1h-2zM1262 311h3v1h-3zM1262 312h3v1h-3zM1261 313h4v1h-4zM1261 314h4v1h-4zM1260 315h6v1h-6zM1253 316h20v1h-20zM1254 317h18v1h-18zM1256 318h14v1h-14zM1257 319h12v1h-12zM1258 320h10v1h-10zM1258 321h10v1h-10zM1258 322h10v1h-10zM1258 323h10v1h-10zM1258 324h11v1h-11zM1257 325h5v1h-5zM1265 325h4v1h-4zM1257 326h4v1h-4zM1266 326h3v1h-3zM1257 327h2v1h-2zM1268 327h2v1h-2zM1257 328h1v1h-1zM1269 328h1v1h-1zM1256 329h1v1h-1zM1270 329h1v1h-1z"/>
<path class="r" d="M1238 282h1v1h-1zM1238 283h1v1h-1zM1237 284h2v1h-2zM1237 285h3v1h-3zM1237 286h3v1h-3zM1236 287h4v1h-4zM1236 288h4v1h-4zM1235 289h6v1h-6zM1228 290h20v1h-20zM1229 291h18v1h-18zM1231 292h14v1h-14zM1232 293h12v1h-12zM1233 294h10v1h-10zM1233 295h10v1h-10zM1233 296h10v1h-10zM1233 297h10v1h-10zM1233 298h11v1h-11zM1232 299h5v1h-5zM1240 299h4v1h-4zM1232 300h4v1h-4zM1241 300h3v1h-3zM1232 301h2v1h-2zM1243 301h2v1h-2zM1232 302h1v1h-1zM1244 302h1v1h-1zM1231 303h1v1h-1zM1245 303h1v1h-1z"/>
<path class="r" d="M1212 269h1v1h-1zM1212 270h1v1h-1zM1211 271h2v1h-2zM1211 272h3v1h-3zM1211 273h3v1h-3zM1210 274h4v1h-4zM1210 275h4v1h-4zM1209 276h6v1h-6zM1202 277h20v1h-20zM1203 278h18v1h-18zM1205 279h14v1h-14zM1206 280h12v1h-12zM1207 281h10v1h-10zM1207 282h10v1h-10zM1207 283h10v1h-10zM1207 284h10v1h-10zM1207 285h11v1h-11zM1206 286h5v1h-5zM1214 286h4v1h-4zM1206 287h4v1h-4zM1215 287h3v1h-3zM1206 288h2v1h-2zM1217 288h2v1h-2zM1206 289h1v1h-1zM1218 289h1v1h-1zM1205 290h1v1h-1zM1219 290h1v1h-1z"/>
<g shape-rendering="auto" filter="url(#th)">
<text transform="translate(1470.5 267.3) scale(1.015 1)" font-size="13" text-anchor="middle">4248</text>
<text transform="translate(1425.5 320.3) scale(1.015 1)" font-size="13" text-anchor="middle">4252</text>
<text transform="translate(1355.5 271.3) scale(1.015 1)" font-size="13" text-anchor="middle">4254</text>
<text transform="translate(1309.5 329.3) scale(1.015 1)" font-size="13" text-anchor="middle">4256</text>
<text transform="translate(1259.5 314.3) scale(1.015 1)" font-size="13" text-anchor="middle">4257</text>
<text transform="translate(1260.5 321.3) scale(1.015 1)" font-size="13" text-anchor="middle">4262</text>
<text transform="translate(1263.5 338.3) scale(1.015 1)" font-size="13" text-anchor="middle">4259</text>
<text transform="translate(1238.5 312.3) scale(1.015 1)" font-size="13" text-anchor="middle">4260</text>
<text transform="translate(1212.5 299.3) scale(1.015 1)" font-size="13" text-anchor="middle">4261</text>
</g></g>
</svg></body></html>
